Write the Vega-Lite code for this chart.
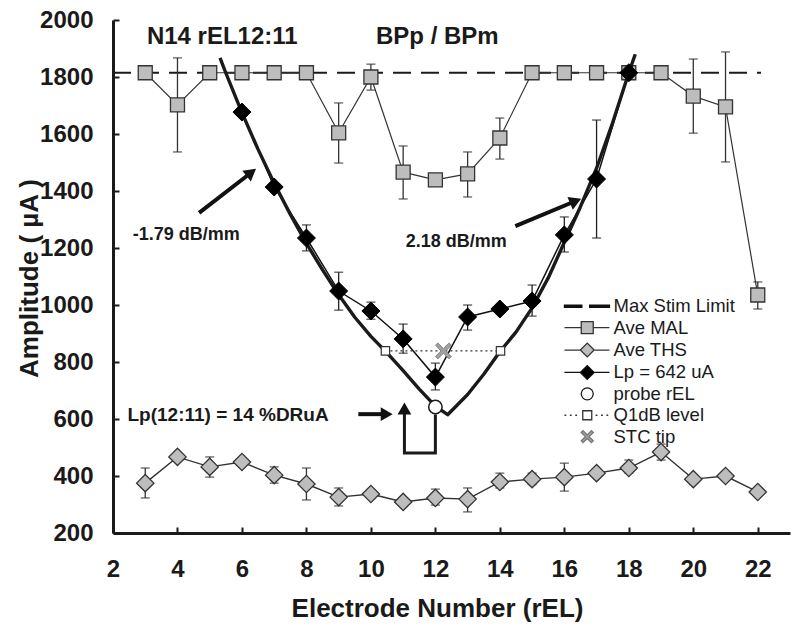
{
  "$schema": "https://vega.github.io/schema/vega-lite/v6.json",
  "autosize": {"type": "none"},
  "padding": {"left": 113, "top": 20, "right": 10, "bottom": 98},
  "width": 677,
  "height": 513,
  "background": "white",
  "config": {
    "view": {"stroke": null},
    "font": "Liberation Sans",
    "axis": {
      "grid": false,
      "domainColor": "#1a1a1a",
      "domainWidth": 3,
      "tickColor": "#1a1a1a",
      "tickWidth": 2,
      "tickSize": -6,
      "labelFont": "Liberation Sans",
      "labelFontWeight": "bold",
      "labelFontSize": 24,
      "labelColor": "#1a1a1a",
      "labelOverlap": false,
      "labelFlush": false,
      "labelBound": false,
      "titleFont": "Liberation Sans",
      "titleFontWeight": "bold",
      "titleFontSize": 26,
      "titleColor": "#1a1a1a"
    }
  },
  "datasets": {
    "mal": [
      {"x": 3, "y": 1815}, {"x": 4, "y": 1702, "lo": 1537, "hi": 1867}, {"x": 5, "y": 1815}, {"x": 6, "y": 1815},
      {"x": 7, "y": 1815}, {"x": 8, "y": 1815}, {"x": 9, "y": 1604, "lo": 1498, "hi": 1709}, {"x": 10, "y": 1800, "lo": 1754, "hi": 1845},
      {"x": 11, "y": 1466, "lo": 1372, "hi": 1558}, {"x": 12, "y": 1439}, {"x": 13, "y": 1460, "lo": 1379, "hi": 1537},
      {"x": 14, "y": 1586, "lo": 1512, "hi": 1656}, {"x": 15, "y": 1815}, {"x": 16, "y": 1815}, {"x": 17, "y": 1815},
      {"x": 18, "y": 1815}, {"x": 19, "y": 1815}, {"x": 20, "y": 1733, "lo": 1603, "hi": 1863},
      {"x": 21, "y": 1695, "lo": 1502, "hi": 1888}, {"x": 22, "y": 1035, "lo": 986, "hi": 1081}
    ],
    "ths": [
      {"x": 3, "y": 375, "lo": 323, "hi": 428}, {"x": 4, "y": 467}, {"x": 5, "y": 432, "lo": 396, "hi": 467},
      {"x": 6, "y": 449}, {"x": 7, "y": 403, "lo": 375, "hi": 432}, {"x": 8, "y": 372, "lo": 316, "hi": 428},
      {"x": 9, "y": 326, "lo": 295, "hi": 358}, {"x": 10, "y": 337}, {"x": 11, "y": 309},
      {"x": 12, "y": 323, "lo": 298, "hi": 354}, {"x": 13, "y": 319, "lo": 274, "hi": 358},
      {"x": 14, "y": 379, "lo": 358, "hi": 410}, {"x": 15, "y": 389, "lo": 370, "hi": 410},
      {"x": 16, "y": 396, "lo": 347, "hi": 445}, {"x": 17, "y": 410}, {"x": 18, "y": 428, "lo": 410, "hi": 456},
      {"x": 19, "y": 484, "lo": 456, "hi": 512}, {"x": 20, "y": 389}, {"x": 21, "y": 400}, {"x": 22, "y": 344}
    ],
    "lp": [
      {"x": 6, "y": 1677}, {"x": 7, "y": 1414}, {"x": 8, "y": 1235, "lo": 1190, "hi": 1281},
      {"x": 9, "y": 1049, "lo": 982, "hi": 1115}, {"x": 10, "y": 979, "lo": 950, "hi": 1010},
      {"x": 11, "y": 881, "lo": 831, "hi": 933}, {"x": 12, "y": 747, "lo": 702, "hi": 796},
      {"x": 13, "y": 958, "lo": 912, "hi": 1000}, {"x": 14, "y": 986}, {"x": 15, "y": 1014, "lo": 961, "hi": 1070},
      {"x": 16, "y": 1246, "lo": 1186, "hi": 1309}, {"x": 17, "y": 1442, "lo": 1235, "hi": 1649}, {"x": 18, "y": 1815}
    ],
    "vcurve": [
      {"x": 5.32, "y": 1867}, {"x": 5.5, "y": 1814}, {"x": 6, "y": 1675}, {"x": 6.5, "y": 1546}, {"x": 7, "y": 1427},
      {"x": 7.5, "y": 1318}, {"x": 8, "y": 1216}, {"x": 8.5, "y": 1123}, {"x": 9, "y": 1036}, {"x": 9.5, "y": 957},
      {"x": 10, "y": 890}, {"x": 10.5, "y": 832}, {"x": 11, "y": 770}, {"x": 11.5, "y": 705}, {"x": 12, "y": 645},
      {"x": 12.38, "y": 615}, {"x": 13, "y": 686}, {"x": 13.5, "y": 757}, {"x": 14, "y": 836}, {"x": 14.5, "y": 905},
      {"x": 15, "y": 990}, {"x": 15.5, "y": 1095}, {"x": 16, "y": 1220}, {"x": 16.5, "y": 1345}, {"x": 17, "y": 1480},
      {"x": 17.5, "y": 1640}, {"x": 18, "y": 1815}, {"x": 18.2, "y": 1880}
    ],
    "maxline": [{"x": 2, "y": 1815}, {"x": 22.1, "y": 1815}],
    "q1db": [{"x": 10.45, "y": 839}, {"x": 14.02, "y": 839}],
    "stc": [{"x": 12.25, "y": 839}],
    "probe": [{"x": 12, "y": 642}],
    "bracket": [{"o": 1, "x": 12, "y": 616}, {"o": 2, "x": 12, "y": 481}, {"o": 3, "x": 11.04, "y": 481}, {"o": 4, "x": 11.04, "y": 630}],
    "arrows": [
      {"id": "a1", "x": 4.67, "y": 1323, "x2": 6.29, "y2": 1465},
      {"id": "a2", "x": 14.48, "y": 1277, "x2": 16.35, "y2": 1365},
      {"id": "a3", "x": 9.61, "y": 617, "x2": 10.49, "y2": 617}
    ],
    "heads": [
      {"id": "a1", "x": 6.29, "y": 1465}, {"id": "a2", "x": 16.35, "y": 1365},
      {"id": "a3", "x": 10.49, "y": 617}, {"id": "a4", "x": 11.04, "y": 637}
    ],
    "texts": [
      {"kind": "header", "t": "N14 rEL12:11", "x": 5.39, "y": 1940},
      {"kind": "header", "t": "BPp / BPm", "x": 12.06, "y": 1940},
      {"kind": "slope", "t": "-1.79 dB/mm", "x": 4.27, "y": 1246},
      {"kind": "slope", "t": "2.18 dB/mm", "x": 12.65, "y": 1221},
      {"kind": "lp", "t": "Lp(12:11) = 14 %DRuA", "x": 5.57, "y": 614}
    ],
    "legendkeys": [
      {"series": "Max Stim Limit"}, {"series": "Ave MAL"}, {"series": "Ave THS"}, {"series": "Lp = 642 uA"},
      {"series": "probe rEL"}, {"series": "Q1dB level"}, {"series": "STC tip"}
    ]
  },
  "layer": [
    {
      "data": {"name": "maxline"},
      "mark": {"type": "line", "color": "#1a1a1a", "strokeWidth": 2.2, "strokeDash": [18, 10]},
      "encoding": {
        "x": {"field": "x", "type": "quantitative", "scale": {"domain": [2, 23], "nice": false, "zero": false},
          "axis": {"values": [2,3,4,5,6,7,8,9,10,11,12,13,14,15,16,17,18,19,20,21,22,23],
            "labelExpr": "datum.value % 2 == 0 && datum.value <= 22 ? datum.label : ''",
            "labelPadding": 30, "title": "Electrode Number (rEL)", "titleX": 324, "titleY": 75, "titleBaseline": "middle", "titleAnchor": "start", "titleAlign": "center"}},
        "y": {"field": "y", "type": "quantitative", "scale": {"domain": [200, 2000], "nice": false, "zero": false},
          "axis": {"values": [200,300,400,500,600,700,800,900,1000,1100,1200,1300,1400,1500,1600,1700,1800,1900,2000],
            "format": "d", "labelExpr": "datum.value % 200 == 0 ? datum.label : ''",
            "labelPadding": 26, "title": "Amplitude ( µA )", "titleX": -84, "titleY": 258, "titleBaseline": "middle", "titleAngle": -90, "titleAlign": "center", "titleAnchor": "start"}}
      }
    },
    {
      "data": {"name": "mal"},
      "transform": [{"filter": "datum.lo != null"}],
      "mark": {"type": "rule", "color": "#333", "strokeWidth": 1.3},
      "encoding": {"x": {"field": "x", "type": "quantitative"}, "y": {"field": "lo", "type": "quantitative"}, "y2": {"field": "hi"}}
    },
    {
      "data": {"name": "mal"},
      "transform": [{"filter": "datum.lo != null"}],
      "mark": {"type": "point", "shape": "stroke", "size": 81, "color": "#333", "strokeWidth": 1.4},
      "encoding": {"x": {"field": "x", "type": "quantitative"}, "y": {"field": "lo", "type": "quantitative"}}
    },
    {
      "data": {"name": "mal"},
      "transform": [{"filter": "datum.lo != null"}],
      "mark": {"type": "point", "shape": "stroke", "size": 81, "color": "#333", "strokeWidth": 1.4},
      "encoding": {"x": {"field": "x", "type": "quantitative"}, "y": {"field": "hi", "type": "quantitative"}}
    },
    {
      "data": {"name": "mal"},
      "mark": {"type": "line", "color": "#333", "strokeWidth": 1.2},
      "encoding": {"x": {"field": "x", "type": "quantitative"}, "y": {"field": "y", "type": "quantitative"}}
    },
    {
      "data": {"name": "mal"},
      "mark": {"type": "point", "shape": "square", "size": 196, "filled": true, "fill": "#bdbdbd", "stroke": "#333", "strokeWidth": 1.3, "opacity": 1},
      "encoding": {"x": {"field": "x", "type": "quantitative"}, "y": {"field": "y", "type": "quantitative"}}
    },
    {
      "data": {"name": "ths"},
      "transform": [{"filter": "datum.lo != null"}],
      "mark": {"type": "rule", "color": "#333", "strokeWidth": 1.3},
      "encoding": {"x": {"field": "x", "type": "quantitative"}, "y": {"field": "lo", "type": "quantitative"}, "y2": {"field": "hi"}}
    },
    {
      "data": {"name": "ths"},
      "transform": [{"filter": "datum.lo != null"}],
      "mark": {"type": "point", "shape": "stroke", "size": 81, "color": "#333", "strokeWidth": 1.4},
      "encoding": {"x": {"field": "x", "type": "quantitative"}, "y": {"field": "lo", "type": "quantitative"}}
    },
    {
      "data": {"name": "ths"},
      "transform": [{"filter": "datum.lo != null"}],
      "mark": {"type": "point", "shape": "stroke", "size": 81, "color": "#333", "strokeWidth": 1.4},
      "encoding": {"x": {"field": "x", "type": "quantitative"}, "y": {"field": "hi", "type": "quantitative"}}
    },
    {
      "data": {"name": "ths"},
      "mark": {"type": "line", "color": "#333", "strokeWidth": 1.4},
      "encoding": {"x": {"field": "x", "type": "quantitative"}, "y": {"field": "y", "type": "quantitative"}}
    },
    {
      "data": {"name": "ths"},
      "mark": {"type": "point", "shape": "diamond", "size": 300, "filled": true, "fill": "#bdbdbd", "stroke": "#333", "strokeWidth": 1.3, "opacity": 1},
      "encoding": {"x": {"field": "x", "type": "quantitative"}, "y": {"field": "y", "type": "quantitative"}}
    },
    {
      "data": {"name": "lp"},
      "transform": [{"filter": "datum.lo != null"}],
      "mark": {"type": "rule", "color": "#222", "strokeWidth": 1.3},
      "encoding": {"x": {"field": "x", "type": "quantitative"}, "y": {"field": "lo", "type": "quantitative"}, "y2": {"field": "hi"}}
    },
    {
      "data": {"name": "lp"},
      "transform": [{"filter": "datum.lo != null"}],
      "mark": {"type": "point", "shape": "stroke", "size": 81, "color": "#222", "strokeWidth": 1.4},
      "encoding": {"x": {"field": "x", "type": "quantitative"}, "y": {"field": "lo", "type": "quantitative"}}
    },
    {
      "data": {"name": "lp"},
      "transform": [{"filter": "datum.lo != null"}],
      "mark": {"type": "point", "shape": "stroke", "size": 81, "color": "#222", "strokeWidth": 1.4},
      "encoding": {"x": {"field": "x", "type": "quantitative"}, "y": {"field": "hi", "type": "quantitative"}}
    },
    {
      "data": {"name": "lp"},
      "mark": {"type": "line", "color": "#111", "strokeWidth": 1.5},
      "encoding": {"x": {"field": "x", "type": "quantitative"}, "y": {"field": "y", "type": "quantitative"}}
    },
    {
      "data": {"name": "vcurve"},
      "mark": {"type": "line", "color": "#1a1a1a", "strokeWidth": 3.4, "strokeJoin": "round"},
      "encoding": {"x": {"field": "x", "type": "quantitative"}, "y": {"field": "y", "type": "quantitative"}}
    },
    {
      "data": {"name": "lp"},
      "mark": {"type": "point", "shape": "diamond", "size": 324, "filled": true, "fill": "#000", "stroke": "#000", "strokeWidth": 1, "opacity": 1},
      "encoding": {"x": {"field": "x", "type": "quantitative"}, "y": {"field": "y", "type": "quantitative"}}
    },
    {
      "data": {"name": "q1db"},
      "mark": {"type": "line", "color": "#333", "strokeWidth": 1.3, "strokeDash": [2, 3]},
      "encoding": {"x": {"field": "x", "type": "quantitative"}, "y": {"field": "y", "type": "quantitative"}}
    },
    {
      "data": {"name": "q1db"},
      "mark": {"type": "point", "shape": "square", "size": 70, "filled": true, "fill": "#fff", "stroke": "#333", "strokeWidth": 1.2, "opacity": 1},
      "encoding": {"x": {"field": "x", "type": "quantitative"}, "y": {"field": "y", "type": "quantitative"}}
    },
    {
      "data": {"name": "stc"},
      "mark": {"type": "point", "shape": "M-1,-0.7L-0.7,-1L0,-0.3L0.7,-1L1,-0.7L0.3,0L1,0.7L0.7,1L0,0.3L-0.7,1L-1,0.7L-0.3,0Z", "size": 256, "filled": true, "fill": "#a0a0a0", "stroke": "#777", "strokeWidth": 0.8, "opacity": 1},
      "encoding": {"x": {"field": "x", "type": "quantitative"}, "y": {"field": "y", "type": "quantitative"}}
    },
    {
      "data": {"name": "bracket"},
      "mark": {"type": "line", "color": "#1a1a1a", "strokeWidth": 3, "strokeJoin": "miter"},
      "encoding": {"x": {"field": "x", "type": "quantitative"}, "y": {"field": "y", "type": "quantitative"}, "order": {"field": "o", "type": "quantitative"}}
    },
    {
      "data": {"name": "probe"},
      "mark": {"type": "point", "shape": "circle", "size": 180, "filled": true, "fill": "#fff", "stroke": "#1a1a1a", "strokeWidth": 1.5, "opacity": 1},
      "encoding": {"x": {"field": "x", "type": "quantitative"}, "y": {"field": "y", "type": "quantitative"}}
    },
    {
      "data": {"name": "arrows"},
      "mark": {"type": "rule", "color": "#111", "strokeWidth": 4},
      "encoding": {"x": {"field": "x", "type": "quantitative"}, "y": {"field": "y", "type": "quantitative"}, "x2": {"field": "x2"}, "y2": {"field": "y2"}}
    },
    {
      "data": {"name": "heads"},
      "transform": [{"filter": "datum.id == 'a1'"}],
      "mark": {"type": "point", "shape": "triangle-up", "size": 190, "filled": true, "color": "#111", "opacity": 1, "angle": 52},
      "encoding": {"x": {"field": "x", "type": "quantitative"}, "y": {"field": "y", "type": "quantitative"}}
    },
    {
      "data": {"name": "heads"},
      "transform": [{"filter": "datum.id == 'a2'"}],
      "mark": {"type": "point", "shape": "triangle-up", "size": 190, "filled": true, "color": "#111", "opacity": 1, "angle": 67},
      "encoding": {"x": {"field": "x", "type": "quantitative"}, "y": {"field": "y", "type": "quantitative"}}
    },
    {
      "data": {"name": "heads"},
      "transform": [{"filter": "datum.id == 'a3'"}],
      "mark": {"type": "point", "shape": "triangle-up", "size": 190, "filled": true, "color": "#111", "opacity": 1, "angle": 90},
      "encoding": {"x": {"field": "x", "type": "quantitative"}, "y": {"field": "y", "type": "quantitative"}}
    },
    {
      "data": {"name": "heads"},
      "transform": [{"filter": "datum.id == 'a4'"}],
      "mark": {"type": "point", "shape": "triangle-up", "size": 190, "filled": true, "color": "#111", "opacity": 1, "angle": 0},
      "encoding": {"x": {"field": "x", "type": "quantitative"}, "y": {"field": "y", "type": "quantitative"}}
    },
    {
      "data": {"name": "texts"},
      "transform": [{"filter": "datum.kind == 'header'"}],
      "mark": {"type": "text", "font": "Liberation Sans", "fontWeight": "bold", "fontSize": 24, "color": "#1a1a1a", "align": "center", "baseline": "middle"},
      "encoding": {"x": {"field": "x", "type": "quantitative"}, "y": {"field": "y", "type": "quantitative"}, "text": {"field": "t"}}
    },
    {
      "data": {"name": "texts"},
      "transform": [{"filter": "datum.kind == 'slope'"}],
      "mark": {"type": "text", "font": "Liberation Sans", "fontWeight": "bold", "fontSize": 18, "color": "#1a1a1a", "align": "center", "baseline": "middle"},
      "encoding": {"x": {"field": "x", "type": "quantitative"}, "y": {"field": "y", "type": "quantitative"}, "text": {"field": "t"}}
    },
    {
      "data": {"name": "texts"},
      "transform": [{"filter": "datum.kind == 'lp'"}],
      "mark": {"type": "text", "font": "Liberation Sans", "fontWeight": "bold", "fontSize": 19, "color": "#1a1a1a", "align": "center", "baseline": "middle"},
      "encoding": {"x": {"field": "x", "type": "quantitative"}, "y": {"field": "y", "type": "quantitative"}, "text": {"field": "t"}}
    },
    {
      "data": {"name": "legendkeys"},
      "mark": {"type": "point", "filled": true, "clip": true, "strokeWidth": 1.3, "opacity": 1},
      "encoding": {
        "x": {"datum": 100, "type": "quantitative"},
        "y": {"datum": 1000, "type": "quantitative"},
        "shape": {"field": "series", "type": "nominal",
          "scale": {"domain": ["Max Stim Limit", "Ave MAL", "Ave THS", "Lp = 642 uA", "probe rEL", "Q1dB level", "STC tip"],
            "range": [
              "M-3.8,-0.17H-0.9V0.17H-3.8ZM0.4,-0.17H3.7V0.17H0.4Z",
              "M-3.8,0H-1M1,0H3.7M-1,-1H1V1H-1Z",
              "M-3.8,0H-1.15M1.15,0H3.7M-1.15,0L0,-1.15L1.15,0L0,1.15Z",
              "M-3.8,0H-1.15M1.15,0H3.7M-1.15,0L0,-1.15L1.15,0L0,1.15Z",
              "M-1,0A1,1 0 1,0 1,0A1,1 0 1,0 -1,0Z",
              "M-3.8,0H-3.5M-2.9,0H-2.6M-2,0H-1.7M-0.75,-0.75H0.75V0.75H-0.75ZM1.4,0H1.7M2.3,0H2.6M3.2,0H3.5",
              "M-1,-0.7L-0.7,-1L0,-0.3L0.7,-1L1,-0.7L0.3,0L1,0.7L0.7,1L0,0.3L-0.7,1L-1,0.7L-0.3,0Z"
            ]},
          "legend": {"orient": "none", "legendX": 465, "legendY": 277, "title": null, "padding": 0,
            "labelFont": "Liberation Sans", "labelFontSize": 18.5, "labelColor": "#1a1a1a", "symbolSize": 144,
            "symbolStrokeWidth": 1.3, "labelOffset": 17, "rowPadding": 2.4, "symbolOffset": 0}},
        "fill": {"field": "series", "type": "nominal",
          "scale": {"domain": ["Max Stim Limit", "Ave MAL", "Ave THS", "Lp = 642 uA", "probe rEL", "Q1dB level", "STC tip"],
            "range": ["#111", "#bdbdbd", "#bdbdbd", "#000", "#fff", "#fff", "#a0a0a0"]},
          "legend": {"orient": "none", "legendX": 465, "legendY": 277, "title": null, "padding": 0,
            "labelFont": "Liberation Sans", "labelFontSize": 18.5, "labelColor": "#1a1a1a", "symbolSize": 144,
            "symbolStrokeWidth": 1.3, "labelOffset": 17, "rowPadding": 2.4, "symbolOffset": 0}},
        "stroke": {"field": "series", "type": "nominal",
          "scale": {"domain": ["Max Stim Limit", "Ave MAL", "Ave THS", "Lp = 642 uA", "probe rEL", "Q1dB level", "STC tip"],
            "range": ["#111", "#333", "#333", "#111", "#1a1a1a", "#333", "#777"]},
          "legend": {"orient": "none", "legendX": 465, "legendY": 277, "title": null, "padding": 0,
            "labelFont": "Liberation Sans", "labelFontSize": 18.5, "labelColor": "#1a1a1a", "symbolSize": 144,
            "symbolStrokeWidth": 1.3, "labelOffset": 17, "rowPadding": 2.4, "symbolOffset": 0}}
      }
    }
  ]
}
